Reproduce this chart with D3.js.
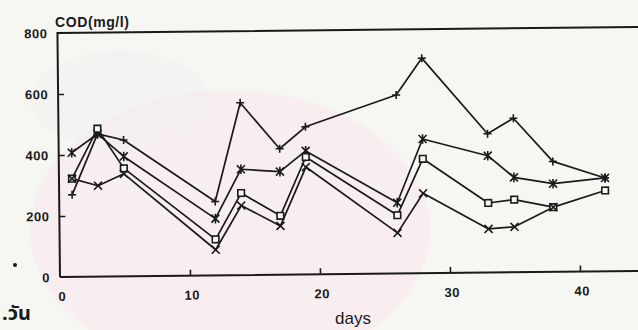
<!DOCTYPE html>
<html>
<head>
<meta charset="utf-8">
<script src="https://cdn.jsdelivr.net/npm/d3@7"></script>
<style>
  html, body { margin: 0; padding: 0; background: #f6f6f3; }
  svg { display: block; }
</style>
</head>
<body>
<svg id="chart" width="638" height="330"></svg>
<script>
// ---- data ----
const days = [1, 3, 5, 12, 14, 17, 19, 26, 28, 33, 35, 38, 42];
const seriesPlus   = [269, 468, 447, 242, 565, 413, 484, 585, 705, 455, 505, 362, 306];
const seriesStar   = [407, 468, 393, 186, 347, 338, 405, 232, 440, 383, 311, 289, 306];
const seriesSquare = [322, 485, 354, 118, 269, 193, 385, 191, 375, 228, 238, 212, 265];
const seriesCross  = [322, 298, 336, 84, 228, 160, 352, 133, 262, 143, 149, 212, null];
const seriesNames  = ["plus", "star", "square", "cross"];
const xTicks = [0, 10, 20, 30, 40];
const yTicks = [0, 200, 400, 600, 800];
const yTitle = "COD(mg/l)";
const xTitle = "days";
const sideNote = ".วัน";

const svg = d3.select("#chart");

// faint background blotches of the scanned page
const bg = svg.append("g");
bg.append("ellipse").attr("cx", 230).attr("cy", 230).attr("rx", 200).attr("ry", 140)
  .attr("fill", "#f8ebee").attr("opacity", 0.75);
bg.append("ellipse").attr("cx", 120).attr("cy", 100).attr("rx", 90).attr("ry", 50)
  .attr("fill", "#efefed").attr("opacity", 0.35);

const x = d3.scaleLinear().domain([0, 45]).range([60, 645]);
const y = d3.scaleLinear().domain([0, 800]).range([277, 33]);

const g = svg.append("g").attr("transform", "rotate(-0.6, 60, 277)");
const ink = "#1a1a1a";

// frame (right side runs off the page)
g.append("path")
  .attr("d", `M${x(0)},${y(0)} L${x(0)},${y(800)} L${x(48)},${y(800)} M${x(0)},${y(0)} L${x(48)},${y(0)}`)
  .attr("fill", "none").attr("stroke", ink).attr("stroke-width", 2);

// axes via d3 (ticks inside)
const xAxis = d3.axisBottom(x).tickValues(xTicks.filter(t => t > 0)).tickSize(-6).tickFormat("");
g.append("g").attr("transform", `translate(0,${y(0)})`).call(xAxis)
  .call(a => a.select(".domain").remove())
  .call(a => a.selectAll("line").attr("stroke", ink).attr("stroke-width", 1.6));
const yAxis = d3.axisLeft(y).tickValues(yTicks.filter(t => t > 0 && t < 800)).tickSize(-6).tickFormat("");
g.append("g").attr("transform", `translate(${x(0)},0)`).call(yAxis)
  .call(a => a.select(".domain").remove())
  .call(a => a.selectAll("line").attr("stroke", ink).attr("stroke-width", 1.6));

// tick labels
const lblFont = "'Liberation Sans', Arial, sans-serif";
g.selectAll("text.xl").data(xTicks).join("text")
  .attr("x", d => x(d) + 2).attr("y", 301)
  .attr("text-anchor", "middle")
  .attr("font-family", lblFont).attr("font-weight", "bold").attr("font-size", 13)
  .attr("letter-spacing", 0.5)
  .attr("fill", ink).text(d => d);
g.selectAll("text.yl").data(yTicks).join("text")
  .attr("x", 50).attr("y", d => y(d) + 5)
  .attr("text-anchor", "end")
  .attr("font-family", lblFont).attr("font-weight", "bold").attr("font-size", 13)
  .attr("letter-spacing", 0.5)
  .attr("fill", ink).text(d => d);

// lines
const allSeries = [seriesPlus, seriesStar, seriesSquare, seriesCross];
const line = d3.line()
  .defined(d => d.v !== null)
  .x(d => x(d.d)).y(d => y(d.v));
allSeries.forEach((vals, i) => {
  const pts = days.map((d, j) => ({d: d, v: vals[j]}));
  g.append("path").datum(pts)
    .attr("d", line)
    .attr("fill", "none").attr("stroke", ink).attr("stroke-width", 1.7)
    .attr("stroke-linejoin", "round");
});

// markers
function markerPath(type, s) {
  switch (type) {
    case "plus":  return `M${-s},0 L${s},0 M0,${-s} L0,${s}`;
    case "cross": return `M${-s},${-s} L${s},${s} M${-s},${s} L${s},${-s}`;
    case "star":  return `M${-s},${-s} L${s},${s} M${-s},${s} L${s},${-s} M0,${-s*1.2} L0,${s*1.2}`;
    case "square": return `M${-s},${-s} H${s} V${s} H${-s} Z`;
  }
}
allSeries.forEach((vals, i) => {
  const type = seriesNames[i];
  const pts = days.map((d, j) => ({d: d, v: vals[j]})).filter(p => p.v !== null);
  g.selectAll(null).data(pts).join("path")
    .attr("transform", p => `translate(${x(p.d)},${y(p.v)})`)
    .attr("d", markerPath(type, type === "square" ? 3.3 : 4))
    .attr("fill", type === "square" ? "#f6f6f3" : "none")
    .attr("stroke", ink).attr("stroke-width", 1.6);
});

// titles
svg.append("text").attr("x", 55).attr("y", 27)
  .attr("font-family", lblFont).attr("font-weight", "bold").attr("font-size", 14)
  .attr("letter-spacing", 0.6)
  .attr("fill", ink).text(yTitle);
svg.append("text").attr("x", 353).attr("y", 324).attr("text-anchor", "middle")
  .attr("font-family", lblFont).attr("font-size", 17)
  .attr("fill", ink).text(xTitle);
svg.append("text").attr("x", 2).attr("y", 320)
  .attr("font-family", "'Noto Sans Thai', 'Noto Sans', 'DejaVu Sans', sans-serif")
  .attr("font-weight", "bold").attr("font-size", 20)
  .attr("fill", ink).text(sideNote);
// stray dot on the scan
svg.append("circle").attr("cx", 15).attr("cy", 265).attr("r", 2).attr("fill", ink);
</script>
</body>
</html>
